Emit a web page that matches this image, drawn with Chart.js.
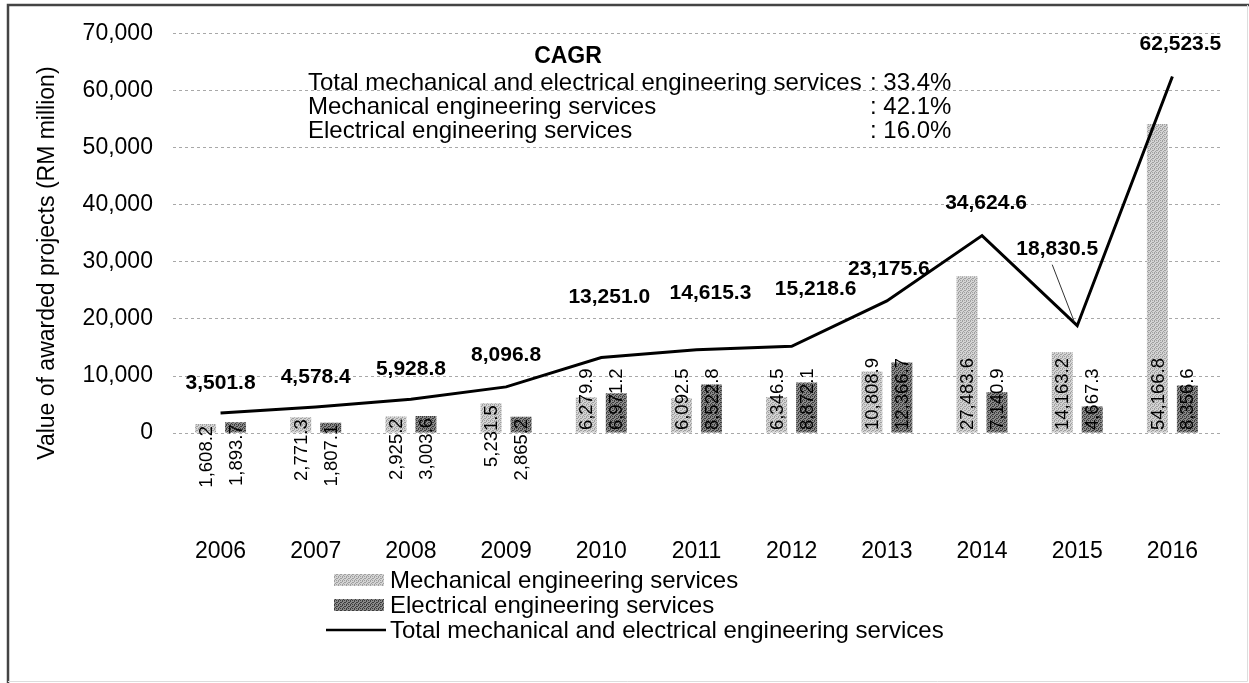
<!DOCTYPE html>
<html>
<head>
<meta charset="utf-8">
<script src="https://cdn.jsdelivr.net/npm/chart.js@4.4.1/dist/chart.umd.min.js"></script>
<style>
  body { margin: 0; background: #fff; }
  #wrap { width: 1249px; height: 683px; }
</style>
</head>
<body>
<div id="wrap"><canvas id="chart" width="1249" height="683"></canvas></div>
<script>
const years = ['2006', '2007', '2008', '2009', '2010', '2011', '2012', '2013', '2014', '2015', '2016'];
const mechanical = [1608.2, 2771.3, 2925.2, 5231.5, 6279.9, 6092.5, 6346.5, 10808.9, 27483.6, 14163.2, 54166.8];
const electrical = [1893.7, 1807.1, 3003.6, 2865.2, 6971.2, 8522.8, 8872.1, 12366.7, 7140.9, 4667.3, 8356.6];
const total = [3501.8, 4578.4, 5928.8, 8096.8, 13251.0, 14615.3, 15218.6, 23175.6, 34624.6, 18830.5, 62523.5];
const cagrLabels = ['Total mechanical and electrical engineering services', 'Mechanical engineering services', 'Electrical engineering services'];
const cagrValues = [': 33.4%', ': 42.1%', ': 16.0%'];

// label placement tweaks (pixels above the line point)
const totalLift = [30, 30, 30, 32, 60, 57, 57, 32, 32, 76, 32];
const totalShift = [0, 0, 0, 0, 8, 14, 24, 2, 4, -20, 8];

const FONT = 'Arial, "Liberation Sans", sans-serif';

function dither(light, dark) {
    const c = document.createElement('canvas');
    c.width = 4; c.height = 4;
    const g = c.getContext('2d');
    g.fillStyle = light;
    g.fillRect(0, 0, 4, 4);
    g.fillStyle = dark;
    g.fillRect(0, 0, 1, 1); g.fillRect(2, 1, 1, 1); g.fillRect(1, 2, 1, 1); g.fillRect(3, 3, 1, 1);
    g.fillRect(2, 0, 1, 1); g.fillRect(0, 2, 1, 1);
    return g.createPattern(c, 'repeat');
}

const ctx = document.getElementById('chart').getContext('2d');
const mechFill = dither('#d4d4d4', '#a0a0a0');
const elecFill = dither('#8a8a8a', '#3c3c3c');

const extras = {
    id: 'extras',
    beforeDraw(chart) {
        const c = chart.ctx;
        c.save();
        c.fillStyle = '#fff';
        c.fillRect(0, 0, chart.width, chart.height);
        c.restore();
    },
    afterDatasetsDraw(chart) {
        const c = chart.ctx;
        const y = chart.scales.y;
        const zero = y.getPixelForValue(0);
        c.save();
        c.fillStyle = '#000';
        c.font = '18.5px ' + FONT;
        c.textBaseline = 'middle';
        [0, 1].forEach(di => {
            const meta = chart.getDatasetMeta(di);
            const vals = chart.data.datasets[di].data;
            meta.data.forEach((bar, i) => {
                const txt = vals[i].toLocaleString('en-US', { minimumFractionDigits: 1 });
                c.save();
                if (i < 4) {
                    c.translate(bar.x, bar.y + 2);
                    c.rotate(-Math.PI / 2);
                    c.textAlign = 'right';
                } else {
                    c.translate(bar.x, zero - 3);
                    c.rotate(-Math.PI / 2);
                    c.textAlign = 'left';
                }
                c.fillText(txt, 0, 1);
                c.restore();
            });
        });

        // total labels
        const lineMeta = chart.getDatasetMeta(2);
        c.font = 'bold 21px ' + FONT;
        c.textAlign = 'center';
        lineMeta.data.forEach((pt, i) => {
            const lx = pt.x + totalShift[i];
            const ly = pt.y - totalLift[i];
            c.fillText(total[i].toLocaleString('en-US', { minimumFractionDigits: 1 }), lx, ly);
            if (totalLift[i] > 60) {
                c.strokeStyle = '#333';
                c.lineWidth = 1;
                c.beginPath();
                c.moveTo(lx - 5, ly + 15);
                c.lineTo(pt.x - 3, pt.y - 4);
                c.stroke();
            }
        });
        c.restore();
    },
    afterDraw(chart) {
        const c = chart.ctx;
        c.save();
        // frame
        c.strokeStyle = '#444';
        c.lineWidth = 2.5;
        c.beginPath();
        c.moveTo(8, 683);
        c.lineTo(8, 5);
        c.lineTo(1249, 5);
        c.stroke();
        c.strokeStyle = '#ddd';
        c.lineWidth = 1;
        c.beginPath();
        c.moveTo(1247.5, 5);
        c.lineTo(1247.5, 681.5);
        c.lineTo(8, 681.5);
        c.stroke();

        // CAGR box
        c.fillStyle = '#000';
        c.textBaseline = 'middle';
        c.font = 'bold 23px ' + FONT;
        c.textAlign = 'center';
        c.fillText('CAGR', 568, 57);
        c.font = '24px ' + FONT;
        c.textAlign = 'left';
        cagrLabels.forEach((t, i) => {
            c.fillText(t, 308, 83 + i * 24);
            c.fillText(cagrValues[i], 870, 83 + i * 24);
        });

        // legend
        const items = chart.data.datasets;
        const lx = 390;
        [0, 1, 2].forEach((di, i) => {
            const yy = 580 + i * 25;
            if (di < 2) {
                c.fillStyle = items[di].backgroundColor;
                c.fillRect(334, yy - 6, 50, 12);
            } else {
                c.strokeStyle = '#000';
                c.lineWidth = 2.5;
                c.beginPath();
                c.moveTo(326, yy);
                c.lineTo(386, yy);
                c.stroke();
            }
            c.fillStyle = '#000';
            c.font = '24px ' + FONT;
            c.fillText(items[di].label, lx, yy + 1);
        });
        c.restore();
    }
};

new Chart(ctx, {
    type: 'bar',
    data: {
        labels: years,
        datasets: [
            { label: 'Mechanical engineering services', data: mechanical, backgroundColor: mechFill, order: 2,
              categoryPercentage: 0.63, barPercentage: 0.7 },
            { label: 'Electrical engineering services', data: electrical, backgroundColor: elecFill, order: 2,
              categoryPercentage: 0.63, barPercentage: 0.7 },
            { type: 'line', label: 'Total mechanical and electrical engineering services', data: total,
              borderColor: '#000', borderWidth: 3, pointRadius: 0, tension: 0, fill: false, order: 1 }
        ]
    },
    options: {
        responsive: false,
        animation: false,
        layout: { padding: { left: 20, right: 29, top: 32, bottom: 73 } },
        plugins: { legend: { display: false }, tooltip: { enabled: false } },
        scales: {
            x: {
                grid: { display: false, drawTicks: false },
                border: { display: false },
                ticks: { color: '#000', font: { family: FONT, size: 23 }, padding: 45, maxRotation: 0 }
            },
            y: {
                min: -10400,
                max: 70000,
                afterBuildTicks: (axis) => {
                    axis.ticks = [0, 10000, 20000, 30000, 40000, 50000, 60000, 70000].map(v => ({ value: v }));
                },
                grid: { color: '#a8a8a8', lineWidth: 1, drawTicks: false },
                border: { display: false, dash: [3, 3] },
                ticks: {
                    color: '#000', font: { family: FONT, size: 23 }, padding: 20,
                    callback: (v) => v.toLocaleString('en-US')
                },
                title: {
                    display: true, text: 'Value of awarded projects (RM million)', color: '#000',
                    font: { family: FONT, size: 23 }, padding: { top: 14, bottom: 1 }
                }
            }
        }
    },
    plugins: [extras]
});
</script>
</body>
</html>
